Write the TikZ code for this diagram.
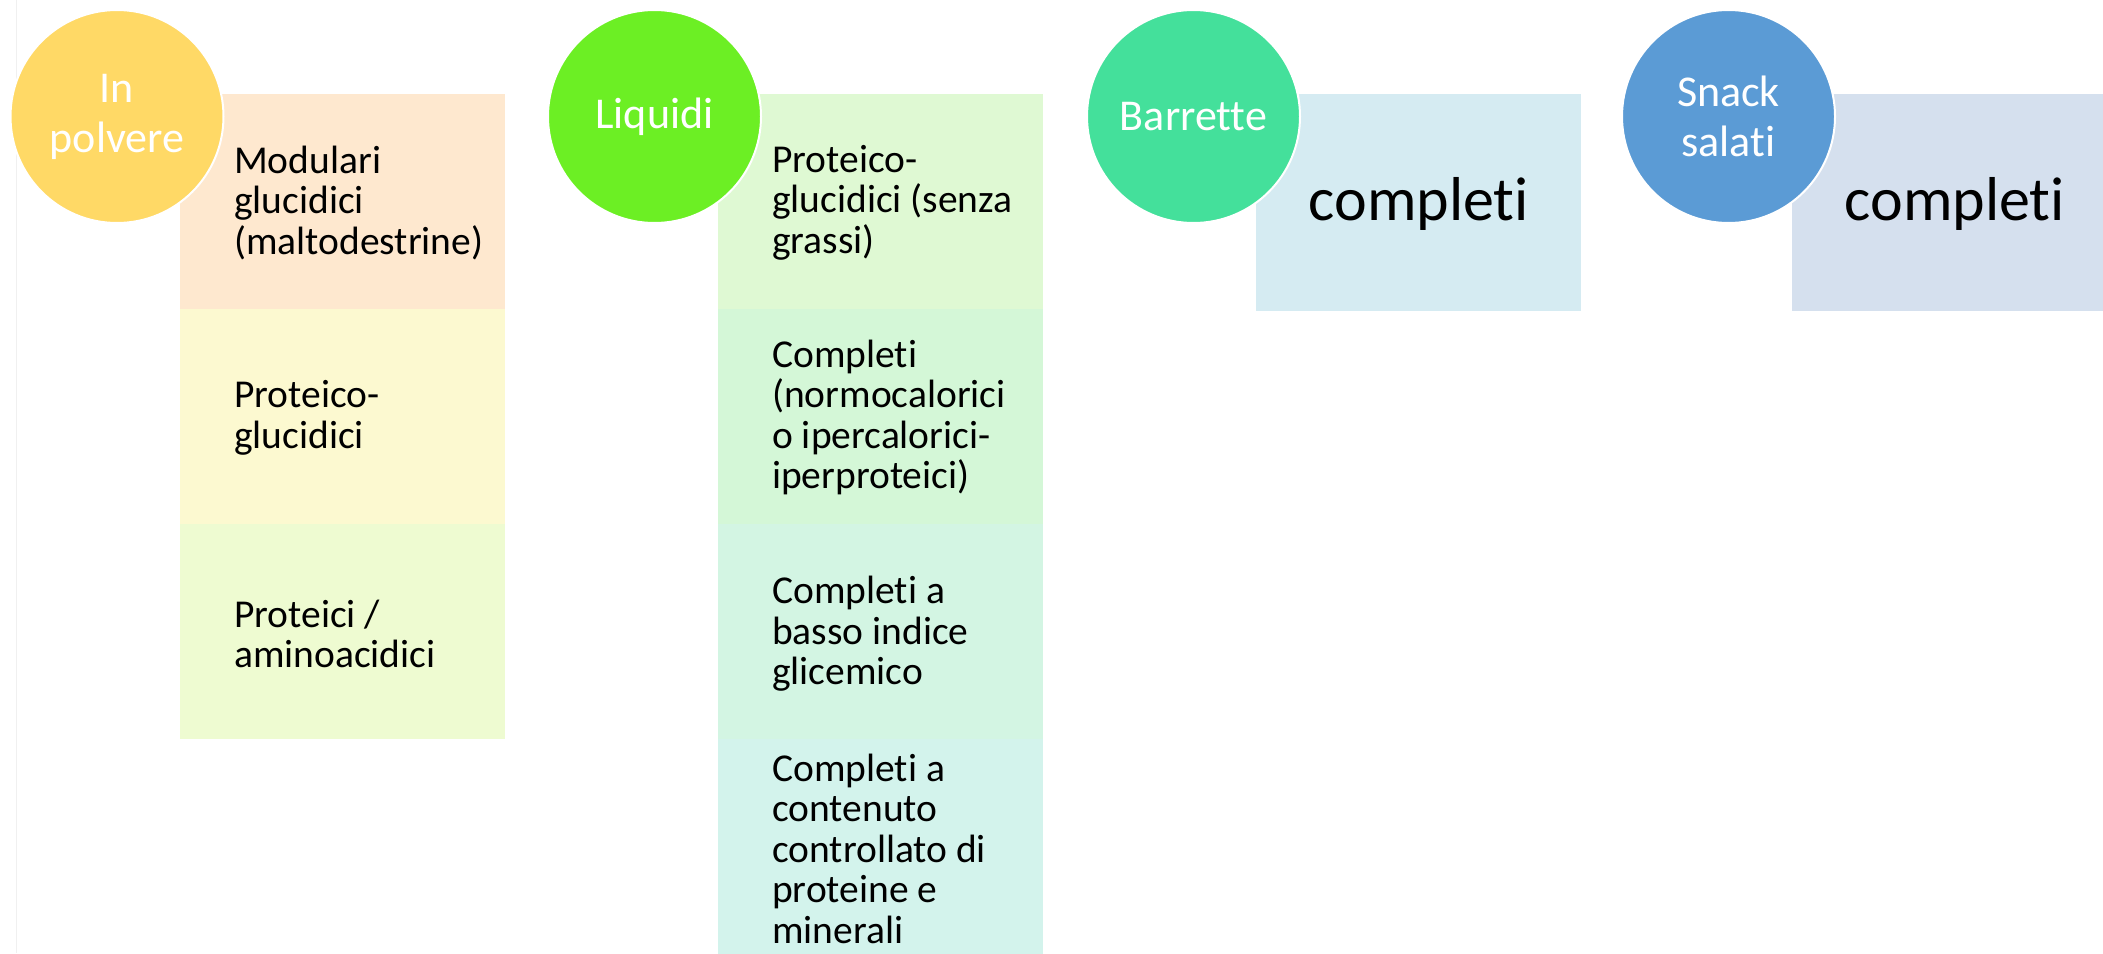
\documentclass[tikz,border=0pt]{standalone}
\usepackage{fontspec}
\setmainfont{Carlito}[Ligatures=NoCommon]

% fill colours
\definecolor{polvere}{HTML}{FFD966}
\definecolor{liquidi}{HTML}{6CEF24}
\definecolor{barrette}{HTML}{44E09B}
\definecolor{snack}{HTML}{5B9BD5}
\definecolor{pA}{HTML}{FEE8CF}
\definecolor{pB}{HTML}{FCF9D0}
\definecolor{pC}{HTML}{EEFBD1}
\definecolor{lA}{HTML}{DFF9D3}
\definecolor{lB}{HTML}{D4F7D7}
\definecolor{lC}{HTML}{D3F5E3}
\definecolor{lD}{HTML}{D3F3EC}
\definecolor{bA}{HTML}{D5EBF2}
\definecolor{sA}{HTML}{D5E0EE}

\tikzset{
  bubble/.style={circle, minimum size=213pt, inner sep=0pt, draw=white,
    line width=2pt, text=white, align=center,
    font=\fontsize{44}{50}\selectfont},
  panel/.style={rectangle, minimum width=325pt, minimum height=215pt,
    inner sep=0pt, anchor=north west, draw=none},
  paneltext/.style={anchor=west, inner sep=0pt, align=left, text=black,
    font=\fontsize{39.5}{40.5}\selectfont},
  bigtext/.style={text=black, font=\fontsize{62}{70}\selectfont}
}

\begin{document}
\begin{tikzpicture}[x=1pt, y=-1pt]
\clip (0,0) rectangle (2103,953);
\fill[white] (0,0) rectangle (2103,953);
\draw[black!6, line width=1pt] (16,0) -- (16,953);

% column 1: powders
\node[panel, fill=pA] (p1) at (180,94) {};
\node[panel, fill=pB] (p2) at (180,309) {};
\node[panel, fill=pC] (p3) at (180,524) {};
\node[paneltext] (tp1) at ([xshift=54pt, yshift=-1pt]p1.west) {Modulari\\glucidici\\(maltodestrine)};
\node[paneltext] (tp2) at ([xshift=54pt, yshift=-1pt]p2.west) {Proteico-\\glucidici};
\node[paneltext] (tp3) at ([xshift=54pt, yshift=-2pt]p3.west) {Proteici /\\aminoacidici};
\node[bubble, fill=polvere] (cp) at (117,116.5) {In\\polvere};

% column 2: liquids
\node[panel, fill=lA] (l1) at (718,94) {};
\node[panel, fill=lB] (l2) at (718,309) {};
\node[panel, fill=lC] (l3) at (718,524) {};
\node[panel, fill=lD] (l4) at (718,739) {};
\node[paneltext] (tl1) at ([xshift=54pt, yshift=-1pt]l1.west) {Proteico-\\glucidici (senza\\grassi)};
\node[paneltext] (tl2) at ([xshift=54pt, yshift=-1pt]l2.west) {Completi\\(normocalorici\\o ipercalorici-\\iperproteici)};
\node[paneltext] (tl3) at ([xshift=54pt, yshift=-2pt]l3.west) {Completi a\\basso indice\\glicemico};
\node[paneltext] (tl4) at ([xshift=54pt, yshift=-2pt]l4.west) {Completi a\\contenuto\\controllato di\\proteine e\\minerali};
\node[bubble, fill=liquidi] (cl) at (654.5,116.5) {Liquidi};

% column 3: bars
\node[panel, fill=bA, minimum height=217pt] (b1) at (1256,94) {};
\node[bigtext] (tb1) at ([yshift=-1pt]b1.center) {completi};
\node[bubble, fill=barrette] (cb) at (1193.5,116.5) {Barrette};

% column 4: salty snacks
\node[panel, fill=sA, minimum height=217pt] (s1) at (1792,94) {};
\node[bigtext] (ts1) at ([yshift=-1pt]s1.center) {completi};
\node[bubble, fill=snack] (cs) at (1728.5,116.5) {Snack\\salati};
\end{tikzpicture}
\end{document}
